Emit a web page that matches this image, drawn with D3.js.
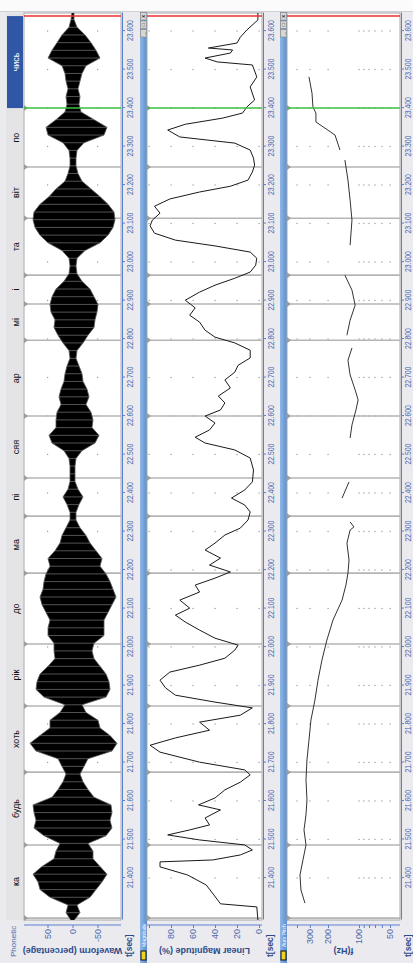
<!DOCTYPE html>
<html lang="uk">
<head>
<meta charset="UTF-8">
<title>Speech Analyzer</title>
<style>
  body { margin: 0; background: #ebebef; overflow: hidden; }
  svg { display: block; }
  text { font-family: "Liberation Sans", Arial, sans-serif; }
</style>
</head>
<body>
<div class="chart"></div>
<script src="https://d3js.org/d3.v7.min.js"></script>
<script>
// ---- data ----
var tickT = [21.4, 21.5, 21.6, 21.7, 21.8, 21.9, 22.0, 22.1, 22.2, 22.3, 22.4, 22.5,
             22.6, 22.7, 22.8, 22.9, 23.0, 23.1, 23.2, 23.3, 23.4, 23.5, 23.6];

var segBounds = [21.296, 21.486, 21.675, 21.847, 22.008, 22.192, 22.340, 22.439,
                 22.600, 22.797, 22.891, 22.966, 23.114, 23.247, 23.400, 23.639];
var segLabels = ["ка", "будь", "хоть", "рік", "до", "ма", "пі", "сяя", "ар", "мі",
                 "і", "та", "віт", "по", "чись"];

// waveform envelope, one value every 0.02 s from 21.29 s
var waveStart = 21.29, waveStep = 0.02;
var waveHi = [3,13,9,45,65,69,79,61,37,33, 25,57,77,73,77,79,41,29,19,13,
              21,29,73,85,65,45,45,25,15,57, 73,71,65,49,35,37,37,49,49,45,
              53,61,65,59,57,53,45,49,35,25, 21,13,5,5,11,19,9,5,5,5,
              7,17,41,47,33,33,31,23,27,23, 17,15,11,5,7,19,29,37,35,43,
              45,41,33,17,7,5,7,21,49,65, 75,79,77,65,47,33,15,9,5,5,
              7,19,49,53,33,15,11,13,9,13, 15,21,49,41,31,21,7,3,1];
var waveLo = [-3,-15,-9,-35,-47,-59,-69,-55,-41,-41, -31,-67,-79,-75,-79,-77,-43,-31,-21,-15,
              -23,-31,-79,-89,-75,-55,-51,-27,-19,-67, -75,-73,-67,-55,-43,-39,-43,-63,-63,-63,
              -71,-79,-87,-81,-75,-67,-55,-59,-47,-35, -27,-15,-7,-7,-13,-21,-11,-5,-5,-5,
              -7,-19,-45,-53,-39,-41,-37,-27,-33,-29, -21,-19,-13,-7,-9,-21,-31,-43,-45,-49,
              -51,-43,-35,-19,-9,-7,-9,-25,-55,-71, -81,-85,-83,-71,-55,-37,-19,-11,-7,-7,
              -9,-23,-63,-69,-43,-17,-13,-15,-11,-15, -19,-27,-55,-47,-37,-25,-9,-3,-3];

// linear magnitude (%)
var magT = [21.291,21.325,21.333,21.356,21.382,21.408,21.429,21.442,21.447,21.460,21.473,21.486,
            21.499,21.512,21.525,21.538,21.556,21.577,21.590,21.608,21.629,21.649,21.668,21.681,
            21.701,21.727,21.745,21.764,21.784,21.805,21.823,21.842,21.857,21.875,21.894,21.914,
            21.935,21.953,21.971,21.992,22.005,22.023,22.044,22.065,22.083,22.101,22.122,22.143,
            22.161,22.179,22.195,22.213,22.231,22.252,22.270,22.291,22.309,22.330,22.351,22.369,
            22.387,22.408,22.429,22.460,22.491,22.512,22.530,22.545,22.564,22.582,22.600,22.616,
            22.634,22.652,22.673,22.694,22.714,22.732,22.751,22.771,22.790,22.805,22.823,22.844,
            22.862,22.881,22.901,22.922,22.940,22.958,22.974,22.992,23.010,23.026,23.042,23.057,
            23.075,23.094,23.109,23.127,23.145,23.164,23.182,23.197,23.213,23.234,23.252,23.270,
            23.291,23.309,23.325,23.343,23.358,23.374,23.387,23.403,23.421,23.455,23.481,23.512,
            23.520,23.530,23.543,23.551,23.556,23.569,23.584,23.603,23.629,23.647];
var magV = [1,2,35,41,48,65,90,90,42,17,6,13,
            54,83,63,45,49,35,55,40,31,17,8,13,
            54,90,99,76,45,54,17,6,40,76,85,90,
            81,54,31,22,19,40,54,67,76,63,72,54,
            58,40,26,45,35,49,40,31,17,10,8,13,
            25,13,6,5,8,22,49,58,45,40,49,35,
            31,37,26,31,22,19,8,8,22,40,49,54,
            63,58,67,54,40,22,8,3,2,8,40,76,
            95,99,97,90,95,81,54,26,10,6,4,5,
            8,22,72,83,67,33,15,11,4,8,2,6,
            38,49,26,24,46,20,17,11,1,1];

// pitch (Hz), null = unvoiced gap
var pitchT = [21.335,21.369,21.408,21.447,21.486,21.525,21.564,21.603,21.655,21.707,21.758,21.810,
              21.862,21.914,21.966,22.018,22.070,22.122,22.161,22.192,22.226,22.270,22.304,22.312,22.325,
              null, 22.387,22.429,
              null, 22.543,22.577,22.616,22.642,22.668,22.707,22.745,22.777,
              null, 22.810,22.849,22.888,22.927,22.966,
              null, 23.044,23.109,23.161,23.213,23.265,
              null, 23.291,23.330,23.364,23.387,23.403,23.439,23.481];
var pitchF = [335,366,374,350,327,342,327,320,327,320,306,293,
              268,250,229,205,179,146,134,128,125,131,122,112,122,
              null, 146,125,
              null, 122,117,107,102,109,122,128,117,
              null, 131,122,109,117,137,
              null, 122,117,122,128,137,
              null, 153,171,262,262,280,286,306];

var waveTicks = [50, 0, -50];
var magTicks = [100, 80, 60, 40, 20, 0];
var pitchTicks = [400, 300, 200, 100, 90, 80, 70, 60, 50];
var pitchLabels = [300, 200, 100, 50];

// ---- drawing (drawn unrotated, then turned a quarter turn) ----
var W = 963, H = 413;
var axisBlue = "#5b7fcf", labelBlue = "#4b69ad", titleBlue = "#2d4a8a";

var svg = d3.select(".chart").append("svg").attr("width", H).attr("height", W);
svg.append("rect").attr("width", H).attr("height", W).attr("fill", "#ebebef");
svg.append("rect").attr("width", H).attr("height", 11).attr("fill", "#fbfbfb");
svg.append("line").attr("x1", 0).attr("x2", H).attr("y1", 11.5).attr("y2", 11.5).attr("stroke", "#cfcfd4");
var root = svg.append("g").attr("transform", "translate(0," + W + ") rotate(-90)");

var x = d3.scaleLinear().domain([21.291, 23.647]).range([43, 950]);

var panels = [
  { name: "wave", win: [0, 137], plot: [24, 121], pad: 2,
    y: d3.scaleLinear().domain([97, -97]).range([24, 121]),
    ticks: waveTicks, labels: waveTicks, title: "Waveform (percentage)" },
  { name: "mag", win: [140, 276], plot: [147, 262], bar: "Magnitude", pad: 2,
    y: d3.scaleLinear().domain([100, 0]).range([149, 259]),
    ticks: magTicks, labels: [80, 60, 40, 20, 0], title: "Linear Magnitude (%)" },
  { name: "pitch", win: [280, 413], plot: [287, 400], bar: "Auto Pitch", pad: 1,
    y: d3.scaleLog().domain([500, 40]).range([287, 400]),
    ticks: pitchTicks, labels: pitchLabels, title: "f(Hz)" }
];

panels.forEach(function(p) {
  var g = root.append("g").attr("class", "panel-" + p.name);
  var top = p.plot[0], bot = p.plot[1];

  // window title bar
  if (p.bar) {
    var grad = svg.append("defs").append("linearGradient")
      .attr("id", "bar-" + p.name).attr("x1", 0).attr("x2", 0).attr("y1", 0).attr("y2", 1);
    grad.append("stop").attr("offset", "0%").attr("stop-color", "#8fb6e6");
    grad.append("stop").attr("offset", "100%").attr("stop-color", "#5a8fd0");
    g.append("rect").attr("x", 0).attr("y", p.win[0]).attr("width", 951).attr("height", 7)
      .attr("fill", "url(#bar-" + p.name + ")");
    g.append("text").attr("x", 16).attr("y", p.win[0] + 5.5).attr("font-size", 5)
      .attr("fill", "#fff").text(p.bar);
    g.append("rect").attr("x", 3).attr("y", p.win[0] + 1).attr("width", 9).attr("height", 5)
      .attr("fill", "#f2d21c").attr("stroke", "#111").attr("stroke-width", 1);
    ["_", "□", "x"].forEach(function(s, i) {
      g.append("rect").attr("x", 926 + i * 8.5).attr("y", p.win[0] + 0.5).attr("width", 7.5).attr("height", 6)
        .attr("fill", "#d8d6d0").attr("stroke", "#777").attr("stroke-width", 0.5);
      g.append("text").attr("x", 929.7 + i * 8.5).attr("y", p.win[0] + 5.2).attr("font-size", 5)
        .attr("text-anchor", "middle").attr("font-weight", "bold").attr("fill", "#222").text(s);
    });
  }

  // plot area
  g.append("rect").attr("x", x.range()[0]).attr("y", top)
    .attr("width", x.range()[1] - x.range()[0]).attr("height", bot - top)
    .attr("fill", "#fff").attr("stroke", "#a8a8a8").attr("stroke-width", 1);

  // dotted grid (dots at tick crossings)
  var dots = [];
  tickT.forEach(function(tt) { p.ticks.forEach(function(v) { dots.push([tt, v]); }); });
  g.append("g").selectAll("rect").data(dots).enter().append("rect")
    .attr("x", function(d) { return x(d[0]) - 0.5; })
    .attr("y", function(d) { return p.y(d[1]) - 0.5; })
    .attr("width", 1.2).attr("height", 1.2).attr("fill", "#9a9a9a");

  // segment boundaries
  var inner = segBounds.slice(0, segBounds.length - 2);
  g.append("g").selectAll("line").data(inner).enter().append("line")
    .attr("x1", function(d) { return x(d); }).attr("x2", function(d) { return x(d); })
    .attr("y1", top).attr("y2", bot)
    .attr("stroke", "#b5b5b5").attr("stroke-width", 1.6);
  g.append("g").selectAll("path").data(segBounds.slice(0, segBounds.length - 1)).enter().append("path")
    .attr("d", function(d) { var u = x(d); return "M" + (u - 3) + "," + top + "L" + (u + 3) + "," + top + "L" + u + "," + (top + 4) + "Z"; })
    .attr("fill", "#9d9d9d");

  // y axis
  var ya = g.append("g").attr("transform", "translate(38,0)")
    .call(d3.axisLeft(p.y).tickValues(p.ticks).tickSize(3).tickPadding(1)
      .tickFormat(function(v) { return p.labels.indexOf(v) >= 0 ? v : ""; }));
  ya.select(".domain").attr("stroke", axisBlue).attr("d", "M0," + top + "V" + bot);
  ya.selectAll(".tick line").attr("stroke", axisBlue);
  ya.selectAll(".tick text").attr("fill", labelBlue).attr("font-size", 9)
    .attr("font-family", "Liberation Sans, Arial, sans-serif");
  g.append("text").attr("transform", "translate(12," + ((top + bot) / 2) + ") rotate(-90)")
    .attr("text-anchor", "middle").attr("dominant-baseline", "central")
    .attr("font-size", 9).attr("font-weight", "bold").attr("fill", titleBlue).text(p.title);

  // time axis
  var xa = g.append("g").attr("transform", "translate(0," + (bot + 1) + ")")
    .call(d3.axisBottom(x).tickValues(tickT).tickSize(3).tickPadding(p.pad)
      .tickFormat(d3.format(".3f")).tickSizeOuter(0));
  xa.select(".domain").attr("stroke", axisBlue);
  xa.selectAll(".tick line").attr("stroke", axisBlue);
  xa.selectAll(".tick text").attr("fill", labelBlue).attr("font-size", 9)
    .attr("font-family", "Liberation Sans, Arial, sans-serif")
    .attr("textLength", 21).attr("lengthAdjust", "spacingAndGlyphs");
  g.append("text").attr("x", 6).attr("y", bot + 7.5).attr("dominant-baseline", "central")
    .attr("font-size", 8.5).attr("font-weight", "bold").attr("fill", titleBlue).text("t[sec]");

  g.append("clipPath").attr("id", "clip-" + p.name).append("rect")
    .attr("x", x.range()[0]).attr("y", top).attr("width", x.range()[1] - x.range()[0]).attr("height", bot - top);
  p.g = g.append("g").attr("clip-path", "url(#clip-" + p.name + ")");
  p.top = top; p.bot = bot;
});

// phonetic strip
var ph = root.append("g");
ph.append("rect").attr("x", 43).attr("y", 6).attr("width", 907).attr("height", 17).attr("fill", "#e4e4e6");
ph.append("text").attr("x", 6).attr("y", 16).attr("font-size", 8).attr("fill", labelBlue).text("Phonetic");
var sel = segLabels.length - 1;
ph.append("rect").attr("x", x(segBounds[sel])).attr("y", 7)
  .attr("width", x(segBounds[sel + 1]) - x(segBounds[sel])).attr("height", 16).attr("fill", "#2f57a6");
ph.selectAll("text.seg").data(segLabels).enter().append("text").attr("class", "seg")
  .attr("x", function(d, i) { return (x(segBounds[i]) + x(segBounds[i + 1])) / 2; })
  .attr("y", 19).attr("text-anchor", "middle")
  .attr("font-family", "Liberation Mono, Courier New, monospace").attr("font-size", 9)
  .attr("fill", function(d, i) { return i === sel ? "#fff" : "#111"; })
  .text(function(d) { return d; });

// waveform
var wave = panels[0];
var waveData = waveHi.map(function(h, i) { return { t: waveStart + i * waveStep, hi: h, lo: waveLo[i] }; });
wave.g.append("path").datum(waveData)
  .attr("d", d3.area().x(function(d) { return x(d.t); })
    .y0(function(d) { return wave.y(d.lo); }).y1(function(d) { return wave.y(d.hi); }))
  .attr("fill", "#000").attr("stroke", "#555").attr("stroke-width", 0.8);
wave.g.append("g").selectAll("line").data(waveData).enter().append("line")
  .attr("x1", function(d) { return x(d.t); }).attr("x2", function(d) { return x(d.t); })
  .attr("y1", function(d) { return wave.y(d.lo); }).attr("y2", function(d) { return wave.y(d.hi); })
  .attr("stroke", "#777").attr("stroke-width", 0.7);

// magnitude
var mag = panels[1];
mag.g.append("path").datum(magT.map(function(tt, i) { return { t: tt, v: magV[i] }; }))
  .attr("d", d3.line().x(function(d) { return x(d.t); }).y(function(d) { return mag.y(d.v); }))
  .attr("fill", "none").attr("stroke", "#1a1a1a").attr("stroke-width", 1);

// pitch
var pit = panels[2];
pit.g.append("path").datum(pitchT.map(function(tt, i) { return { t: tt, f: pitchF[i] }; }))
  .attr("d", d3.line().defined(function(d) { return d.f !== null; })
    .x(function(d) { return x(d.t); }).y(function(d) { return pit.y(d.f); }))
  .attr("fill", "none").attr("stroke", "#333").attr("stroke-width", 1);

// cursors across all panels
panels.forEach(function(p) {
  [[segBounds[segBounds.length - 2], "#3fbf3f"], [segBounds[segBounds.length - 1], "#ee3030"]].forEach(function(c) {
    p.g.append("line").attr("x1", x(c[0])).attr("x2", x(c[0])).attr("y1", p.top).attr("y2", p.bot)
      .attr("stroke", c[1]).attr("stroke-width", 1.5);
  });
});
</script>
</body>
</html>
